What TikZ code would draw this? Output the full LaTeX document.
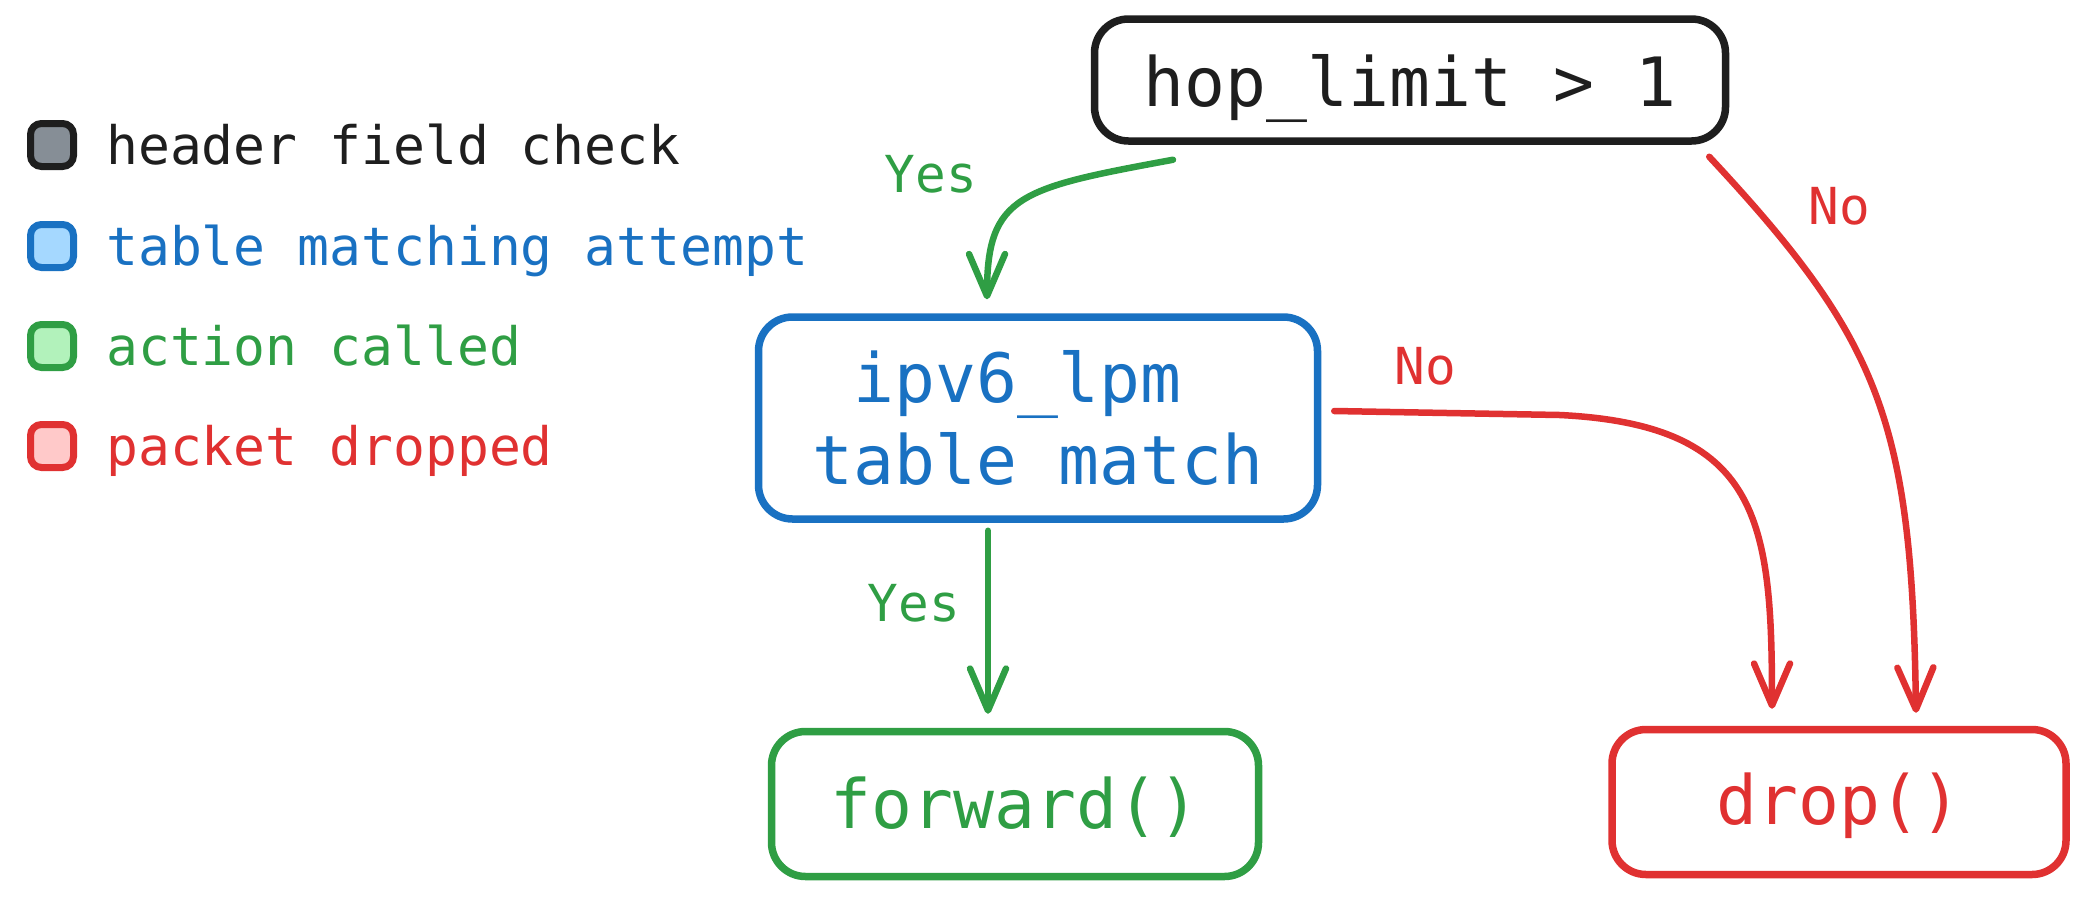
\documentclass[tikz,border=0pt]{standalone}
\usepackage{fontspec}
\newfontfamily\codefont{DejaVu Sans Mono}
\usetikzlibrary{arrows.meta,calc}
\definecolor{cblack}{HTML}{1E1E1E}
\definecolor{cblue}{HTML}{1971C2}
\definecolor{cgreen}{HTML}{2F9E44}
\definecolor{cred}{HTML}{E03131}
\definecolor{fgray}{HTML}{868E96}
\definecolor{fblue}{HTML}{A5D8FF}
\definecolor{fgreen}{HTML}{B2F2BB}
\definecolor{fred}{HTML}{FFC9C9}
\tikzset{
  box/.style={draw, line width=7.5pt, rounded corners=34pt, inner sep=0pt, fill=white,
    font=\codefont\fontsize{68}{82}\selectfont, align=center},
  legsq/.style={draw, line width=7pt, rounded corners=11pt, minimum width=43pt, minimum height=43pt, inner sep=0pt},
  legtxt/.style={anchor=base west, inner sep=0pt, font=\codefont\fontsize{53}{60}\selectfont},
  elabel/.style={inner sep=0pt, font=\codefont\fontsize{51}{60}\selectfont},
  arr/.style={line width=6.5pt, line cap=round, line join=round,
    -{Straight Barb[length=42pt,width=36pt,line cap=round,line join=round]}}
}
\newcommand{\dropdown}[2]{\raisebox{-#1}[\height][\depth]{#2}}
\begin{document}
\begin{tikzpicture}[x=1pt,y=-1pt]
\useasboundingbox (0,0) rectangle (2086,898);
% legend
\node[legsq, color=cblack, fill=fgray] (l1) at (52,145) {};
\node[legsq, color=cblue, fill=fblue] (l2) at (52,246) {};
\node[legsq, color=cgreen, fill=fgreen] (l3) at (52,346) {};
\node[legsq, color=cred, fill=fred] (l4) at (52,446) {};
\node[legtxt, text=cblack] (t1) at (106,164) {header field check};
\node[legtxt, text=cblue] (t2) at (106,265) {table matching attempt};
\node[legtxt, text=cgreen] (t3) at (106,365) {action called};
\node[legtxt, text=cred] (t4) at (106,465) {packet dropped};
% nodes
\node[box, draw=cblack, text=cblack, minimum width=631pt, minimum height=122pt] (top) at (1410,80) {\dropdown{8pt}{hop\_limit > 1}};
\node[box, draw=cblue, text=cblue, minimum width=559pt, minimum height=202pt] (ipv6) at (1038,418) {ipv6\_lpm\hphantom{x}\\table match};
\node[box, draw=cgreen, text=cgreen, minimum width=487pt, minimum height=145pt] (fwd) at (1015,804) {\dropdown{3pt}{forward()}};
\node[box, draw=cred, text=cred, minimum width=454pt, minimum height=145pt] (drop) at (1839,802) {\dropdown{4pt}{drop()}};
% connectors
\draw[arr, cgreen] ([xshift=-237pt,yshift=-15pt]top.south) .. controls (1020,188) and (987,195) .. ([xshift=-51pt,yshift=14pt]ipv6.north);
\draw[arr, cred] ([xshift=-20pt,yshift=-12pt]top.south east) .. controls (1880,340) and (1912,420) .. ([xshift=77pt,yshift=13pt]drop.north);
\draw[arr, cred] ([xshift=13pt,yshift=7pt]ipv6.east) -- (1560,415) .. controls (1760,425) and (1772,520) .. ([xshift=-67pt,yshift=17pt]drop.north);
\draw[arr, cgreen] ([xshift=-50pt,yshift=-8pt]ipv6.south) -- ([xshift=-27pt,yshift=14pt]fwd.north);
% edge labels
\node[elabel, text=cgreen] (y1) at (931,174) {Yes};
\node[elabel, text=cred] (n1) at (1839,206) {No};
\node[elabel, text=cred] (n2) at (1425,366) {No};
\node[elabel, text=cgreen] (y2) at (914,603) {Yes};
\end{tikzpicture}
\end{document}
